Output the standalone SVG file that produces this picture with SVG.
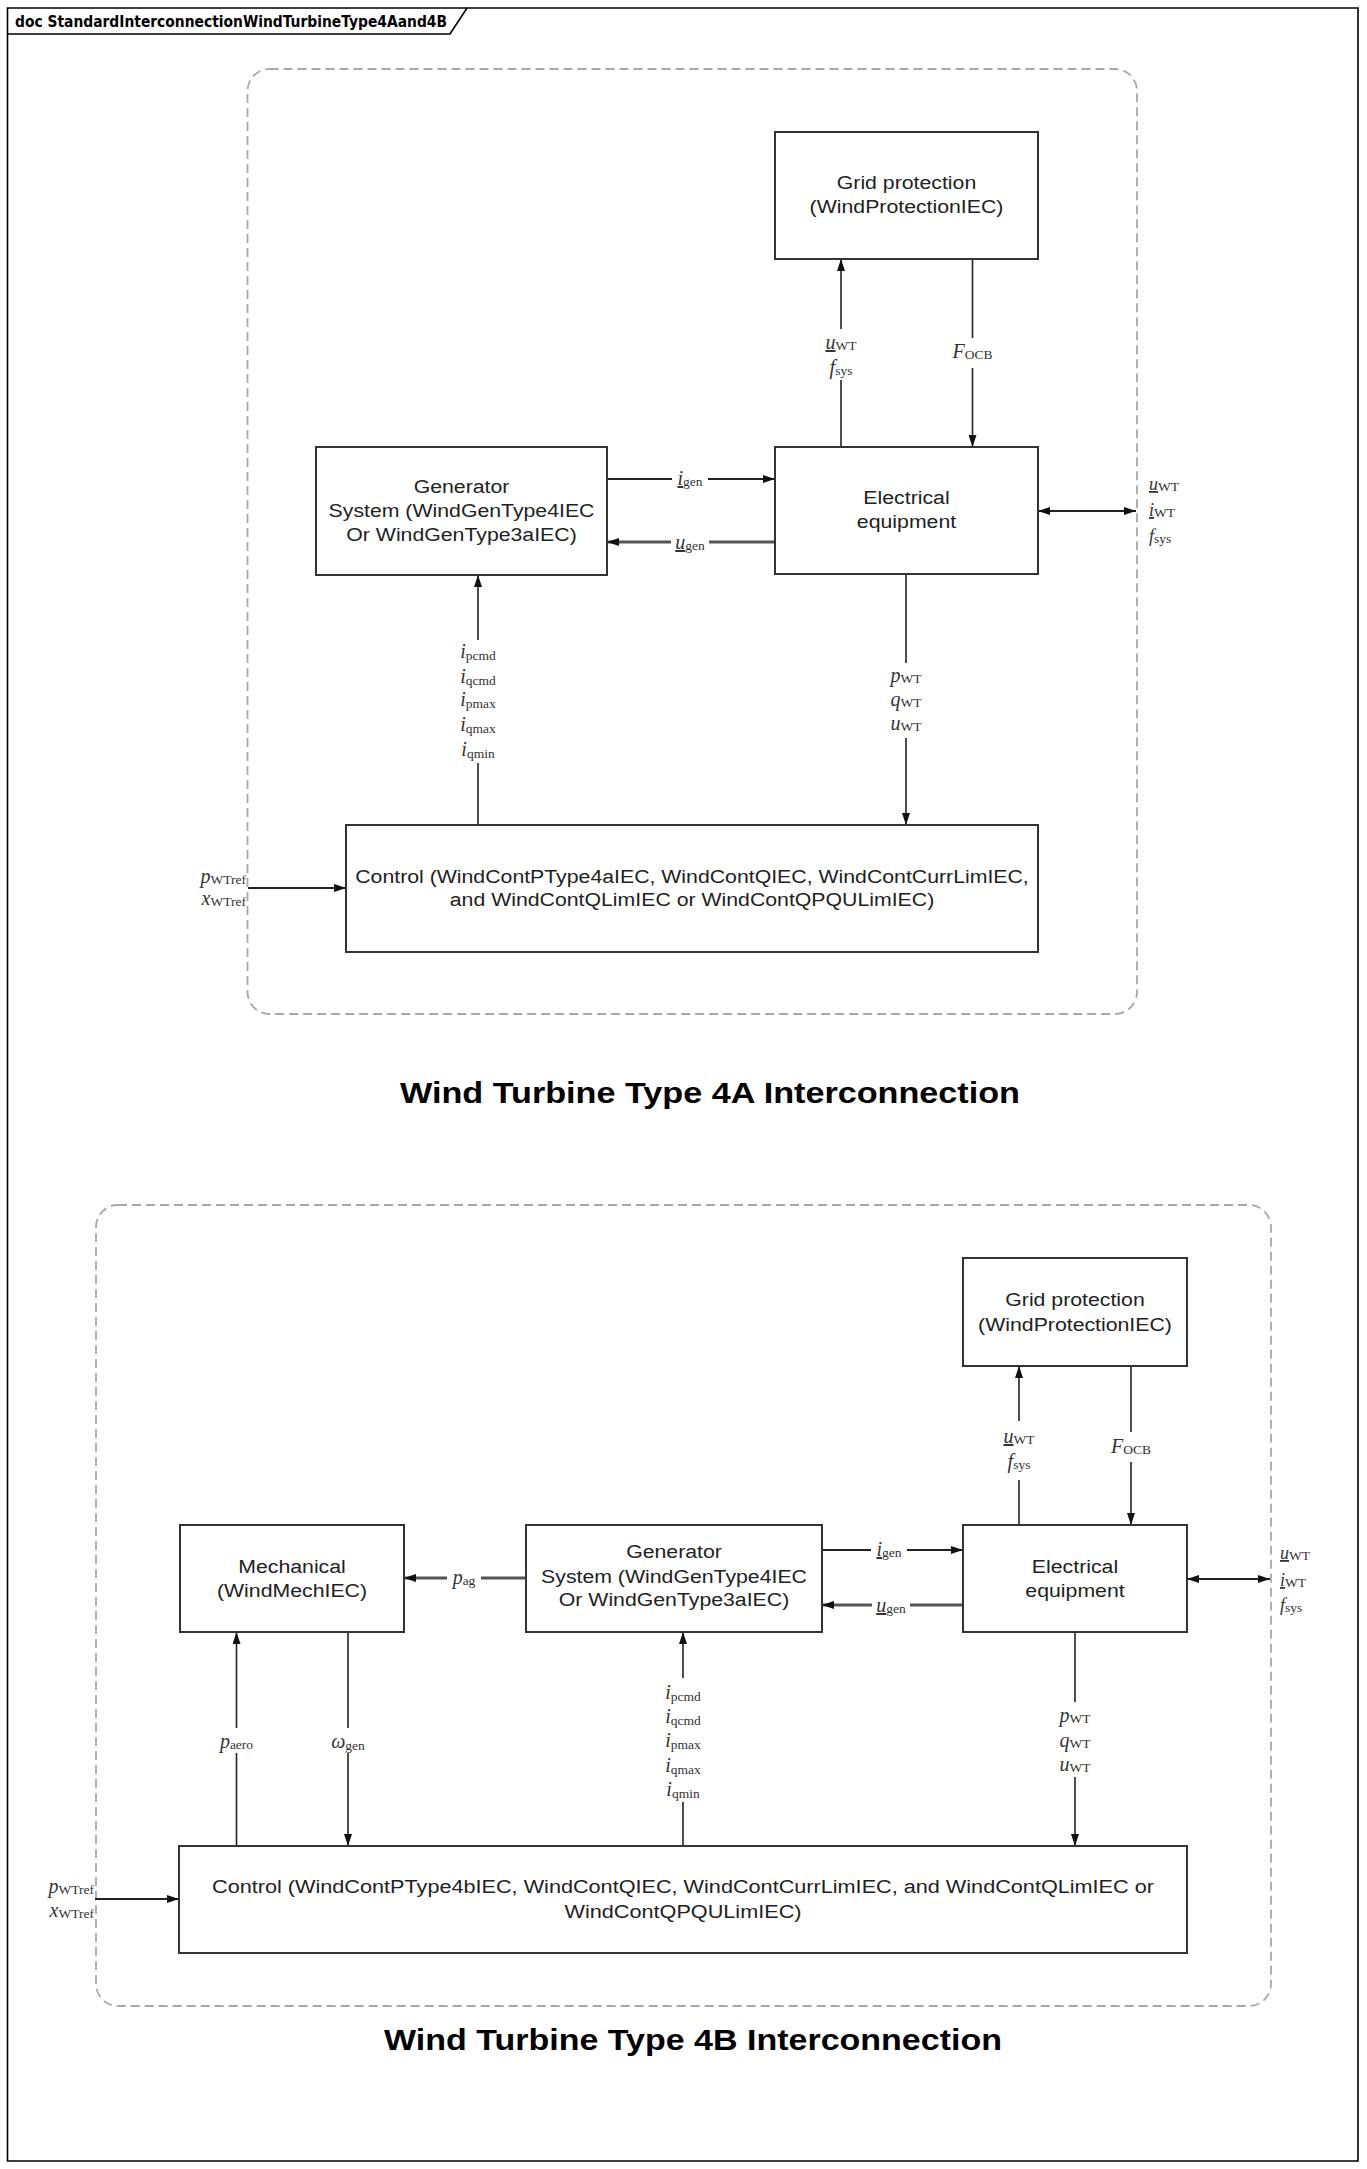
<svg xmlns="http://www.w3.org/2000/svg" width="1367" height="2169" viewBox="0 0 1367 2169">
<defs>
<style>
.frame{fill:none;stroke:#000;stroke-width:1.6}
.tab{font-family:"DejaVu Sans","Liberation Sans",sans-serif;font-weight:bold;font-size:15.5px;fill:#000}
.cont{fill:none;stroke:#a8a8a8;stroke-width:1.8;stroke-dasharray:9 5}
.box{fill:#fff;stroke:#333;stroke-width:2}
.lbl{font-family:"Liberation Sans",Arial,sans-serif;font-size:19px;fill:#222;text-anchor:middle}
.title{font-family:"Liberation Sans",Arial,sans-serif;font-size:30px;font-weight:bold;fill:#000;text-anchor:middle}
.conn{fill:none;stroke:#222;stroke-width:1.6}
.thick{stroke:#555;stroke-width:3}
.mid{stroke-width:2}
.gap{fill:#fff;stroke:none}
.m{font-family:"Liberation Serif","Times New Roman",serif;font-style:italic;font-size:20px;fill:#333;text-anchor:middle}
.sm{font-size:18px;text-anchor:start}
.ra{text-anchor:end}
.s{font-style:normal;font-size:13.5px}
.u{text-decoration:underline}
</style>
<marker id="ah" viewBox="0 0 12 8" refX="12" refY="4" markerWidth="12" markerHeight="8" markerUnits="userSpaceOnUse" orient="auto-start-reverse">
<path d="M0,0 L12,4 L0,8 z" fill="#111"/>
</marker>
</defs>
<rect x="0" y="0" width="1367" height="2169" fill="#fff"/>
<g id="frame">
<path class="frame" d="M7.5,8 H1358 V2161 H7.5 Z"/>
<path class="frame" d="M7.5,34 H450 L467,8"/>
<text class="tab" x="15" y="27" textLength="432" lengthAdjust="spacingAndGlyphs">doc StandardInterconnectionWindTurbineType4Aand4B</text>
</g>

<!-- Section A -->
<g id="containerA"><rect class="cont" x="247.5" y="69" width="889.5" height="945" rx="22"/></g>
<g id="connectorsA">
<line class="conn" x1="841" y1="447" x2="841" y2="259" marker-end="url(#ah)"/>
<line class="conn" x1="972.5" y1="259" x2="972.5" y2="447" marker-end="url(#ah)"/>
<line class="conn mid" x1="607" y1="479" x2="775" y2="479" marker-end="url(#ah)"/>
<line class="conn thick" x1="775" y1="542" x2="607" y2="542" marker-end="url(#ah)"/>
<line class="conn mid" x1="1038" y1="511" x2="1136" y2="511" marker-start="url(#ah)" marker-end="url(#ah)"/>
<line class="conn" x1="478" y1="825" x2="478" y2="575" marker-end="url(#ah)"/>
<line class="conn" x1="906" y1="574" x2="906" y2="825" marker-end="url(#ah)"/>
<line class="conn mid" x1="248" y1="888" x2="346" y2="888" marker-end="url(#ah)"/>
</g>
<g id="labelsA">
<rect class="gap" x="824" y="329" width="34" height="51"/>
<text class="m" x="841" y="349"><tspan class="u">u</tspan><tspan class="s" dy="1">WT</tspan></text>
<text class="m" x="841" y="374"><tspan>f</tspan><tspan class="s" dy="1">sys</tspan></text>
<rect class="gap" x="953" y="338" width="40" height="30"/>
<text class="m" x="972.5" y="358"><tspan>F</tspan><tspan class="s" dy="1">OCB</tspan></text>
<rect class="gap" x="672" y="470" width="36" height="20"/>
<text class="m" x="690" y="485"><tspan class="u">i</tspan><tspan class="s" dy="1">gen</tspan></text>
<rect class="gap" x="671" y="533" width="38" height="20"/>
<text class="m" x="690" y="549"><tspan class="u">u</tspan><tspan class="s" dy="1">gen</tspan></text>
<text class="m sm" x="1149" y="490"><tspan class="u">u</tspan><tspan class="s" dy="1">WT</tspan></text>
<text class="m sm" x="1149" y="516"><tspan class="u">i</tspan><tspan class="s" dy="1">WT</tspan></text>
<text class="m sm" x="1149" y="542"><tspan>f</tspan><tspan class="s" dy="1">sys</tspan></text>
<rect class="gap" x="458" y="640" width="40" height="123"/>
<text class="m" x="478" y="658"><tspan>i</tspan><tspan class="s" dy="2">pcmd</tspan></text>
<text class="m" x="478" y="683"><tspan>i</tspan><tspan class="s" dy="2">qcmd</tspan></text>
<text class="m" x="478" y="706"><tspan>i</tspan><tspan class="s" dy="2">pmax</tspan></text>
<text class="m" x="478" y="731"><tspan>i</tspan><tspan class="s" dy="2">qmax</tspan></text>
<text class="m" x="478" y="756"><tspan>i</tspan><tspan class="s" dy="2">qmin</tspan></text>
<rect class="gap" x="887" y="663" width="38" height="75"/>
<text class="m" x="906" y="682"><tspan>p</tspan><tspan class="s" dy="1">WT</tspan></text>
<text class="m" x="906" y="706"><tspan>q</tspan><tspan class="s" dy="1">WT</tspan></text>
<text class="m" x="906" y="730"><tspan>u</tspan><tspan class="s" dy="1">WT</tspan></text>
<text class="m ra" x="246" y="883"><tspan>p</tspan><tspan class="s" dy="1">WTref</tspan></text>
<text class="m ra" x="246" y="905"><tspan>x</tspan><tspan class="s" dy="1">WTref</tspan></text>
</g>
<g id="gridProtectionA">
<rect class="box" x="775" y="132" width="263" height="127"/>
<g transform="translate(906.5,0) scale(1.12,1)">
<text class="lbl" x="0" y="189">Grid protection</text>
<text class="lbl" x="0" y="213">(WindProtectionIEC)</text>
</g>
</g>
<g id="generatorA">
<rect class="box" x="316" y="447" width="291" height="128"/>
<g transform="translate(461.5,0) scale(1.12,1)">
<text class="lbl" x="0" y="493">Generator</text>
<text class="lbl" x="0" y="517">System (WindGenType4IEC</text>
<text class="lbl" x="0" y="541">Or WindGenType3aIEC)</text>
</g>
</g>
<g id="electricalA">
<rect class="box" x="775" y="447" width="263" height="127"/>
<g transform="translate(906.5,0) scale(1.12,1)">
<text class="lbl" x="0" y="504">Electrical</text>
<text class="lbl" x="0" y="528">equipment</text>
</g>
</g>
<g id="controlA">
<rect class="box" x="346" y="825" width="692" height="127"/>
<g transform="translate(692,0) scale(1.12,1)">
<text class="lbl" x="0" y="883">Control (WindContPType4aIEC, WindContQIEC, WindContCurrLimIEC,</text>
<text class="lbl" x="0" y="906">and WindContQLimIEC or WindContQPQULimIEC)</text>
</g>
</g>
<text class="title" x="710" y="1103" textLength="620" lengthAdjust="spacingAndGlyphs">Wind Turbine Type 4A Interconnection</text>

<!-- Section B -->
<g id="containerB"><rect class="cont" x="96" y="1205" width="1175" height="801" rx="22"/></g>
<g id="connectorsB">
<line class="conn" x1="1019" y1="1525" x2="1019" y2="1366" marker-end="url(#ah)"/>
<line class="conn" x1="1131" y1="1366" x2="1131" y2="1525" marker-end="url(#ah)"/>
<line class="conn mid" x1="822" y1="1550" x2="963" y2="1550" marker-end="url(#ah)"/>
<line class="conn thick" x1="963" y1="1605" x2="822" y2="1605" marker-end="url(#ah)"/>
<line class="conn thick" x1="526" y1="1578" x2="404" y2="1578" marker-end="url(#ah)"/>
<line class="conn mid" x1="1187" y1="1579" x2="1270" y2="1579" marker-start="url(#ah)" marker-end="url(#ah)"/>
<line class="conn" x1="236.5" y1="1846" x2="236.5" y2="1632" marker-end="url(#ah)"/>
<line class="conn" x1="348" y1="1632" x2="348" y2="1846" marker-end="url(#ah)"/>
<line class="conn" x1="683" y1="1846" x2="683" y2="1632" marker-end="url(#ah)"/>
<line class="conn" x1="1075" y1="1632" x2="1075" y2="1846" marker-end="url(#ah)"/>
<line class="conn mid" x1="95" y1="1899" x2="179" y2="1899" marker-end="url(#ah)"/>
</g>
<g id="labelsB">
<rect class="gap" x="1002" y="1421" width="34" height="59"/>
<text class="m" x="1019" y="1443"><tspan class="u">u</tspan><tspan class="s" dy="1">WT</tspan></text>
<text class="m" x="1019" y="1468"><tspan>f</tspan><tspan class="s" dy="1">sys</tspan></text>
<rect class="gap" x="1111" y="1432" width="40" height="30"/>
<text class="m" x="1131" y="1453"><tspan>F</tspan><tspan class="s" dy="1">OCB</tspan></text>
<rect class="gap" x="871" y="1541" width="36" height="20"/>
<text class="m" x="889" y="1556"><tspan class="u">i</tspan><tspan class="s" dy="1">gen</tspan></text>
<rect class="gap" x="872" y="1596" width="38" height="20"/>
<text class="m" x="891" y="1612"><tspan class="u">u</tspan><tspan class="s" dy="1">gen</tspan></text>
<rect class="gap" x="447" y="1569" width="34" height="20"/>
<text class="m" x="464" y="1584"><tspan>p</tspan><tspan class="s" dy="1">ag</tspan></text>
<text class="m sm" x="1280" y="1559"><tspan class="u">u</tspan><tspan class="s" dy="1">WT</tspan></text>
<text class="m sm" x="1280" y="1586"><tspan class="u">i</tspan><tspan class="s" dy="1">WT</tspan></text>
<text class="m sm" x="1280" y="1611"><tspan>f</tspan><tspan class="s" dy="1">sys</tspan></text>
<rect class="gap" x="214" y="1728" width="46" height="25"/>
<text class="m" x="236.5" y="1748"><tspan>p</tspan><tspan class="s" dy="1">aero</tspan></text>
<rect class="gap" x="328" y="1728" width="42" height="25"/>
<text class="m" x="348" y="1748"><tspan>ω</tspan><tspan class="s" dy="2">gen</tspan></text>
<rect class="gap" x="663" y="1678" width="40" height="124"/>
<text class="m" x="683" y="1699"><tspan>i</tspan><tspan class="s" dy="2">pcmd</tspan></text>
<text class="m" x="683" y="1723"><tspan>i</tspan><tspan class="s" dy="2">qcmd</tspan></text>
<text class="m" x="683" y="1747"><tspan>i</tspan><tspan class="s" dy="2">pmax</tspan></text>
<text class="m" x="683" y="1772"><tspan>i</tspan><tspan class="s" dy="2">qmax</tspan></text>
<text class="m" x="683" y="1796"><tspan>i</tspan><tspan class="s" dy="2">qmin</tspan></text>
<rect class="gap" x="1056" y="1702" width="38" height="75"/>
<text class="m" x="1075" y="1722"><tspan>p</tspan><tspan class="s" dy="1">WT</tspan></text>
<text class="m" x="1075" y="1747"><tspan>q</tspan><tspan class="s" dy="1">WT</tspan></text>
<text class="m" x="1075" y="1771"><tspan>u</tspan><tspan class="s" dy="1">WT</tspan></text>
<text class="m ra" x="94" y="1893"><tspan>p</tspan><tspan class="s" dy="1">WTref</tspan></text>
<text class="m ra" x="94" y="1917"><tspan>x</tspan><tspan class="s" dy="1">WTref</tspan></text>
</g>
<g id="gridProtectionB">
<rect class="box" x="963" y="1258" width="224" height="108"/>
<g transform="translate(1075,0) scale(1.12,1)">
<text class="lbl" x="0" y="1306">Grid protection</text>
<text class="lbl" x="0" y="1331">(WindProtectionIEC)</text>
</g>
</g>
<g id="mechanicalB">
<rect class="box" x="180" y="1525" width="224" height="107"/>
<g transform="translate(292,0) scale(1.12,1)">
<text class="lbl" x="0" y="1573">Mechanical</text>
<text class="lbl" x="0" y="1597">(WindMechIEC)</text>
</g>
</g>
<g id="generatorB">
<rect class="box" x="526" y="1525" width="296" height="107"/>
<g transform="translate(674,0) scale(1.12,1)">
<text class="lbl" x="0" y="1558">Generator</text>
<text class="lbl" x="0" y="1583">System (WindGenType4IEC</text>
<text class="lbl" x="0" y="1606">Or WindGenType3aIEC)</text>
</g>
</g>
<g id="electricalB">
<rect class="box" x="963" y="1525" width="224" height="107"/>
<g transform="translate(1075,0) scale(1.12,1)">
<text class="lbl" x="0" y="1573">Electrical</text>
<text class="lbl" x="0" y="1597">equipment</text>
</g>
</g>
<g id="controlB">
<rect class="box" x="179" y="1846" width="1008" height="107"/>
<g transform="translate(683,0) scale(1.14,1)">
<text class="lbl" x="0" y="1893">Control (WindContPType4bIEC, WindContQIEC, WindContCurrLimIEC, and WindContQLimIEC or</text>
<text class="lbl" x="0" y="1918">WindContQPQULimIEC)</text>
</g>
</g>
<text class="title" x="693" y="2050" textLength="618" lengthAdjust="spacingAndGlyphs">Wind Turbine Type 4B Interconnection</text>
</svg>
